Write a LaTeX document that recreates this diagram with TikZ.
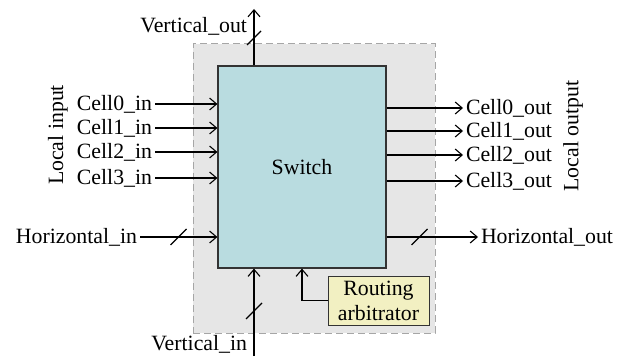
\documentclass[tikz,border=0pt]{standalone}
\usepackage{fontspec}
\setmainfont{Liberation Serif}
\usetikzlibrary{arrows.meta}
\definecolor{swfill}{HTML}{B9DCE0}
\definecolor{bggray}{HTML}{E6E6E6}
\definecolor{dashgray}{HTML}{A6A6A6}
\definecolor{rtfill}{HTML}{F2F0C2}
\definecolor{edge}{HTML}{333333}
\begin{document}
\begin{tikzpicture}[x=1pt,y=1pt,
  lbl/.style={inner sep=2pt, outer sep=1pt, font=\fontsize{21.8}{24}\selectfont},
  arr/.style={-{Straight Barb[length=7pt,width=12pt]}, line width=1.1pt},
  slash/.style={line width=1.1pt}
]
\useasboundingbox (0,0) rectangle (628,356);
% background dashed region
\node[draw=dashgray, fill=bggray, dash pattern=on 7pt off 4pt, line width=1pt,
      minimum width=242pt, minimum height=289pt, inner sep=0pt] (bg) at (314,167.5) {};
% switch
\node[draw=edge, fill=swfill, line width=1.2pt, minimum width=168pt, minimum height=202pt,
      inner sep=0pt, font=\fontsize{21.8}{24}\selectfont] (sw) at (302,189) {Switch};
% routing arbitrator
\node[draw=edge, fill=rtfill, line width=1pt, minimum width=101pt, minimum height=49pt,
      inner sep=0pt, align=center, font=\fontsize{21.8}{25}\selectfont] (rt) at (378.5,55.5) {Routing\\arbitrator};

% inputs
\node[lbl, anchor=east] (c0i) at (155,252) {Cell0\_in};
\node[lbl, anchor=east] (c1i) at (155,228) {Cell1\_in};
\node[lbl, anchor=east] (c2i) at (155,204) {Cell2\_in};
\node[lbl, anchor=east] (c3i) at (155,178) {Cell3\_in};
\foreach \n in {c0i,c1i,c2i,c3i}
  \draw[arr] (\n.east) -- (\n.east -| sw.west);
\node[lbl, rotate=90] (li) at (58,221) {Local input};

% outputs
\node[lbl, anchor=west] (c0o) at (463,248) {Cell0\_out};
\node[lbl, anchor=west] (c1o) at (463,225) {Cell1\_out};
\node[lbl, anchor=west] (c2o) at (463,201) {Cell2\_out};
\node[lbl, anchor=west] (c3o) at (463,175) {Cell3\_out};
\foreach \n in {c0o,c1o,c2o,c3o}
  \draw[arr] (\n.west -| sw.east) -- (\n.west);
\node[lbl, rotate=90] (lo) at (573,220) {Local output};

% horizontal
\node[lbl, anchor=east] (hi) at (140,119) {Horizontal\_in};
\draw[arr] (hi.east) -- (hi.east -| sw.west);
\node[lbl, anchor=west] (ho) at (478,119) {Horizontal\_out};
\draw[arr] (ho.west -| sw.east) -- (ho.west);
\coordinate (s1) at (178.5,119);
\draw[slash] ([shift={(-8,-8)}]s1) -- ([shift={(8,8)}]s1);
\coordinate (s2) at (419.5,119);
\draw[slash] ([shift={(-8,-8)}]s2) -- ([shift={(8,8)}]s2);

% vertical
\coordinate (vo) at (254,347);
\draw[arr] (sw.north -| vo) -- (vo);
\node[lbl, anchor=east] (vol) at (250,330) {Vertical\_out};
\coordinate (s3) at (254,318);
\draw[slash] ([shift={(-7,-7)}]s3) -- ([shift={(7,7)}]s3);

\coordinate (vi) at (254,0);
\draw[arr] (vi) -- (vi |- sw.south);
\node[lbl, anchor=east] (vil) at (250,12) {Vertical\_in};
\coordinate (s4) at (254,45);
\draw[slash] ([shift={(-8,-8)}]s4) -- ([shift={(8,8)}]s4);

% routing arbitrator to switch
\draw[arr] (rt.west) -| (sw.south);
\end{tikzpicture}
\end{document}
